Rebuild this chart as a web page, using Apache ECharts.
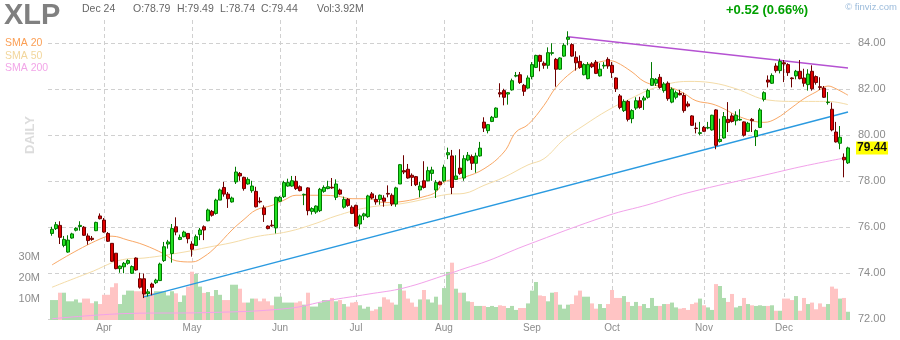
<!DOCTYPE html>
<html><head><meta charset="utf-8">
<script src="https://cdn.jsdelivr.net/npm/echarts@6/dist/echarts.min.js"></script>
<style>html,body{margin:0;padding:0;background:#fff}#c{width:900px;height:340px}</style>
</head><body><div id="c"></div><script>
// ---- trading days (2024) ----
const tradingDays = {
  '2024-03': [12,13,14,15,18,19,20,21,22,25,26,27,28],
  '2024-04': [1,2,3,4,5,8,9,10,11,12,15,16,17,18,19,22,23,24,25,26,29,30],
  '2024-05': [1,2,3,6,7,8,9,10,13,14,15,16,17,20,21,22,23,24,28,29,30,31],
  '2024-06': [3,4,5,6,7,10,11,12,13,14,17,18,20,21,24,25,26,27,28],
  '2024-07': [1,2,3,5,8,9,10,11,12,15,16,17,18,19,22,23,24,25,26,29,30,31],
  '2024-08': [1,2,5,6,7,8,9,12,13,14,15,16,19,20,21,22,23,26,27,28,29,30],
  '2024-09': [3,4,5,6,9,10,11,12,13,16,17,18,19,20,23,24,25,26,27,30],
  '2024-10': [1,2,3,4,7,8,9,10,11,14,15,16,17,18,21,22,23,24,25,28,29,30,31],
  '2024-11': [1,4,5,6,7,8,11,12,13,14,15,18,19,20,21,22,25,26,27,29],
  '2024-12': [2,3,4,5,6,9,10,11,12,13,16,17,18,19,20,23,24]
};
const monthNames = ['Jan','Feb','Mar','Apr','May','Jun','Jul','Aug','Sep','Oct','Nov','Dec'];
const priceTicks = [72, 84, 2];      // min, max, step
const volumeTicks = [0, 30, 10];     // millions

const opens = [
75.72,75.93,76.07,75.20,74.91,75.52,75.86,76.02,75.99,75.61,
75.51,75.84,76.48,76.30,75.72,75.29,74.86,74.19,74.27,74.42,
73.99,74.65,73.75,73.75,73.10,73.52,73.58,73.67,74.54,75.26,
74.85,76.01,75.46,75.58,75.72,75.26,75.20,75.67,76.01,76.27,
76.68,76.59,77.17,77.72,77.43,77.09,77.96,78.33,78.16,77.87,
77.58,77.55,77.12,76.83,76.04,76.08,75.96,77.12,77.32,77.78,
77.78,77.99,77.75,77.40,77.70,76.68,76.65,76.71,77.55,77.67,
77.73,77.29,77.61,76.86,77.20,76.86,76.94,76.13,76.48,76.45,
77.44,77.20,77.20,77.26,77.46,77.38,77.00,77.87,78.45,78.51,
78.25,78.19,77.61,78.01,78.01,78.33,77.61,77.96,78.01,79.14,
79.09,78.07,78.56,78.13,78.91,79.06,78.77,79.09,80.56,80.19,
80.59,80.77,81.84,81.93,81.78,81.96,82.56,82.62,82.16,82.04,
82.54,82.94,83.46,83.12,83.03,83.55,83.29,82.86,83.43,84.16,
83.93,83.38,83.20,82.62,82.45,83.09,83.17,82.57,83.00,83.29,
83.03,82.48,81.70,81.06,81.46,80.71,81.17,81.49,81.52,81.64,
82.16,82.25,82.51,81.93,82.25,81.43,81.64,81.81,81.72,81.35,
80.83,80.30,80.07,80.33,80.30,80.22,81.09,79.72,79.87,80.68,
80.83,80.62,80.65,80.57,80.16,80.68,79.93,80.33,81.55,82.39,
82.25,83.00,82.80,83.14,83.06,82.48,82.57,82.77,82.48,82.19,
82.77,82.54,82.10,82.04,81.41,81.12,80.13,79.64,79.03,78.79];
const closes = [
75.90,76.10,75.55,75.46,75.43,75.70,75.94,76.07,75.64,75.41,
75.46,76.20,76.36,75.78,75.38,74.51,74.19,74.30,74.42,74.54,
74.28,74.13,73.38,73.09,73.18,73.38,73.69,74.39,75.14,75.35,
75.93,75.78,75.55,75.78,75.49,75.03,75.58,75.87,75.87,76.74,
76.51,77.17,77.61,77.43,77.23,77.26,78.39,78.22,77.67,78.07,
77.78,76.88,77.09,76.54,75.93,76.05,77.29,77.29,77.93,77.93,
78.01,77.67,77.58,77.42,76.71,76.80,76.91,77.64,77.72,77.75,
77.70,77.87,77.43,77.20,76.94,76.59,76.04,76.48,76.57,77.35,
77.26,77.09,77.38,77.12,77.43,77.00,77.70,78.71,78.39,78.13,
78.16,77.84,77.78,77.72,78.45,78.48,77.93,77.84,78.60,79.23,
77.72,78.22,78.33,78.97,79.12,78.77,79.09,79.43,80.30,80.45,
80.77,81.17,81.78,81.64,81.84,82.36,82.59,82.28,81.90,82.48,
83.06,83.46,83.20,83.03,83.58,83.58,82.86,83.35,83.90,84.25,
83.43,83.14,82.94,83.06,83.06,82.97,82.68,82.86,83.03,83.00,
82.71,82.01,81.20,81.46,80.68,81.06,81.49,81.20,81.61,81.93,
82.45,82.42,82.07,82.22,81.58,81.99,81.84,81.75,81.06,81.26,
80.42,80.28,80.10,80.16,80.33,80.86,79.55,79.81,80.80,80.54,
80.59,80.86,80.68,79.99,80.51,80.62,80.19,81.09,81.84,82.30,
82.59,82.80,83.20,83.09,82.71,82.45,82.77,82.45,82.25,82.65,
82.01,82.28,82.07,81.64,81.43,80.22,79.70,79.90,78.92,79.44];
const lows = [
75.62,75.87,75.26,75.12,74.88,75.49,75.81,75.84,75.61,75.23,
75.40,75.82,76.33,75.75,75.35,74.48,74.16,74.01,73.99,74.36,
73.96,74.10,73.32,72.91,72.98,73.03,73.52,73.65,74.48,75.06,
74.45,75.64,75.43,75.55,75.29,74.71,75.20,75.43,75.43,76.25,
76.45,76.54,77.17,77.32,76.83,77.06,77.87,78.01,77.58,77.84,
77.49,76.85,77.03,76.22,75.90,76.01,75.72,77.09,77.26,77.75,
77.75,77.61,77.55,76.95,76.51,76.54,76.57,76.65,77.49,77.64,
77.66,77.17,77.38,76.80,76.88,76.56,76.01,75.90,76.30,76.40,
77.20,76.97,76.97,76.88,77.29,76.91,76.88,77.87,78.30,78.10,
77.78,77.78,77.29,77.67,77.99,78.01,77.26,77.81,77.96,78.95,
77.43,78.04,78.27,78.01,78.86,78.48,78.36,79.06,80.13,80.07,
80.56,80.74,81.64,81.29,81.32,81.93,82.51,82.22,81.70,82.01,
82.42,82.91,82.77,82.88,82.88,83.46,82.10,82.83,83.40,83.90,
83.40,82.80,82.88,82.59,82.42,82.91,82.65,82.54,82.88,82.88,
82.48,81.87,81.12,81.00,80.59,80.51,81.09,81.14,81.09,81.58,
82.13,82.13,82.01,81.84,81.49,81.38,81.55,81.72,80.97,81.20,
80.39,80.07,79.99,80.13,80.25,80.19,79.38,79.67,79.84,80.13,
80.54,80.42,80.62,79.93,80.13,80.13,79.52,80.30,81.46,82.07,
82.22,82.71,82.68,82.30,82.57,82.07,82.42,82.42,82.10,81.93,
81.93,82.19,81.96,81.61,81.32,80.16,79.67,79.38,78.16,78.74];
const highs = [
76.01,76.22,76.25,75.61,75.64,75.75,75.99,76.25,76.04,75.72,
75.61,76.23,76.59,76.39,75.78,75.29,74.86,74.33,74.48,74.59,
74.33,74.68,74.01,73.98,73.30,73.58,73.75,74.45,75.35,75.44,
76.13,76.42,75.67,75.84,75.72,75.38,75.67,75.96,76.07,76.80,
76.74,77.23,77.67,77.96,77.52,77.32,78.62,78.39,78.19,78.16,
78.01,77.75,77.29,76.94,76.07,76.30,77.32,77.35,78.01,78.10,
78.22,78.22,77.81,77.45,77.73,76.86,76.94,77.70,77.81,78.01,
78.13,78.07,77.67,77.32,77.26,76.94,76.97,76.54,76.62,77.40,
77.52,77.38,77.41,77.38,77.81,77.46,77.75,78.74,79.12,78.74,
78.33,78.22,77.96,78.86,78.62,78.62,78.04,78.01,78.71,79.45,
79.35,79.12,79.38,79.12,79.26,79.15,79.23,79.70,80.77,80.48,
80.83,81.20,82.25,82.01,81.87,82.45,82.74,82.74,82.22,82.59,
83.17,83.49,83.49,83.20,83.81,83.99,83.35,83.38,83.99,84.51,
83.99,83.64,83.46,83.12,83.17,83.17,83.26,83.12,83.17,83.38,
83.17,82.51,81.78,81.55,81.52,81.12,81.64,81.66,81.70,82.01,
83.17,82.48,82.65,82.30,82.33,82.07,81.93,81.96,81.84,81.46,
80.86,80.54,80.57,80.39,80.57,80.88,81.12,80.71,81.00,81.43,
80.94,81.03,81.12,80.59,80.57,80.74,80.25,81.17,81.90,82.59,
82.68,83.12,83.32,83.26,83.12,82.51,82.83,83.26,82.88,82.86,
83.03,82.59,82.51,82.13,81.87,81.41,80.57,80.39,79.20,79.49];
const volumesM = [
9.5,9.5,13,13,8.9,8.9,9.8,8.3,10.2,10.2,
8,8.9,7.6,12,12,15.6,17.5,7.6,12,14,
14,13.7,13.7,14,11.7,12.9,13.7,13.7,13.7,11.7,
13.7,12.7,8.6,11.7,15.9,23,21.9,15.9,12.9,13.3,
11.4,14.3,12,9.5,9.5,16.8,16.8,14.9,8.3,8.3,
10.2,10.2,8.9,10.2,8.9,7,11.1,11.1,8.3,8.3,
8.3,8.3,8.9,7.3,13,6.4,6.4,8.3,9.5,9.5,
10.5,8.9,9.5,7.6,6.4,8.3,8.6,7,5.4,6.3,
4.4,5.1,6.3,10.8,9.8,8.3,7.3,17.1,14,10.2,
8.3,6.3,9.8,14.3,9.8,8.3,11.1,7.3,15.2,22.9,
27.3,14.9,13,13,8.9,8.6,6.7,6.7,6.7,6.2,
6.7,6.2,7,6.7,5.7,6.7,4.8,5.7,5.7,7.9,
14,18.1,11.7,11.4,8.9,13,13.3,7.3,5.4,7.3,
7.6,11.7,14,11.1,11.1,7.9,5.4,7.6,5.7,7.6,
14.3,10.5,10.5,11.4,8.6,6.7,8.6,6.7,7.6,5.7,
10.5,6.7,6.7,7.6,7.6,8.3,6.0,5.4,5.7,4.8,
7.6,8.3,10.2,7,6,4.8,17.1,16.2,10.5,8.6,
12.4,6,6.7,10.5,7.6,7,6.7,7,6.7,6.7,
7,4.4,4.4,10.2,10.2,9.5,11.4,4.4,10.5,7.6,
8.3,5.1,7.9,6.3,7.6,15.9,14.9,10.2,10.5,3.92];

// moving averages: [day index, value]
const sma20 = [[0,74.35],[13,75.55],[15,75.6],[19,75.43],[23,75.22],[28,74.83],[31,74.53],[35,74.48],[38,74.71],[41,75.14],[45,75.87],[48,76.33],[51,76.74],[55,76.94],[58,77.17],[61,77.38],[66,77.38],[71,77.35],[75,77.23],[79,77.23],[83,77.06],[88,77.12],[93,77.32],[96,77.52],[98,77.95],[103,78.16],[108,78.53],[113,79.26],[116,80.13],[119,80.45],[123,81.29],[126,82.07],[130,82.74],[133,83.03],[136,83.14],[139,83.23],[141,83.17],[145,82.74],[148,82.33],[151,82.16],[155,82.04],[158,81.81],[161,81.49],[165,81.35],[168,81.14],[171,80.86],[175,80.62],[178,80.55],[181,80.71],[185,81.20],[188,81.58],[191,81.87],[194,82.13],[196,82.01],[199,81.73]];
const sma50 = [[0,73.38],[9,73.99],[19,74.62],[23,74.65],[33,74.91],[39,75.12],[45,75.32],[51,75.58],[59,75.80],[66,76.16],[71,76.48],[79,76.85],[88,77.03],[99,77.42],[103,77.46],[108,77.81],[113,78.16],[119,78.70],[123,78.97],[128,79.81],[133,80.42],[139,81.08],[145,81.61],[151,82.07],[159,82.33],[165,82.27],[171,82.01],[179,81.52],[186,81.46],[194,81.46],[199,81.32]];
const sma200 = [[0,72.01],[19,72.24],[39,72.28],[59,72.46],[69,72.80],[79,73.08],[88,73.35],[99,73.95],[103,74.19],[109,74.53],[118,75.17],[139,76.50],[149,76.97],[159,77.49],[179,78.29],[188,78.65],[199,79.03]];
const supportLine = [[23,72.96],[199,81.0]];
const resistanceLine = [[129,84.27],[199,82.91]];

const header = {ticker:'XLP', date:'Dec 24', o:'78.79', h:'79.49', l:'78.74', c:'79.44', vol:'3.92M', change:'+0.52 (0.66%)'};

// ---- build ----
const dates = [];
for (const m in tradingDays) for (const d of tradingDays[m]) dates.push(m + '-' + String(d).padStart(2,'0'));
const monthStart = new Set();
dates.forEach((d,i)=>{ if (i>0 && d.slice(0,7)!==dates[i-1].slice(0,7)) monthStart.add(i); });
const candles = dates.map((d,i)=>[opens[i], closes[i], lows[i], highs[i]]);
const vols = volumesM.map((v,i)=>({value:v, itemStyle:{color: closes[i]>=opens[i] ? '#aedcae' : '#ffc4c4'}}));

const FONT = '"Liberation Sans", Arial, sans-serif';
const chart = echarts.init(document.getElementById('c'), null, {renderer:'canvas'});
const dash = [4,3];
const gridBase = {containLabel:false, outerBoundsMode:'none'};
const option = {
  animation:false,
  backgroundColor:'#fff',
  textStyle:{fontFamily:FONT},
  grid:[
    Object.assign({left:52, width:796, top:43, height:276}, gridBase),
    Object.assign({left:52, width:796, top:257, height:63}, gridBase),
    Object.assign({left:48, width:804, top:43, height:276}, gridBase),
    Object.assign({left:52, width:796, top:20, height:299}, gridBase)
  ],
  xAxis:[
    {type:'category', gridIndex:0, data:dates, boundaryGap:false, show:false},
    {type:'category', gridIndex:1, data:dates, boundaryGap:false, show:false},
    {type:'value', gridIndex:2, min:0, max:1, show:false},
    {type:'category', gridIndex:3, data:dates, boundaryGap:false,
      axisLine:{show:false}, axisTick:{show:false},
      axisLabel:{interval:(i)=>monthStart.has(i), formatter:(v)=>monthNames[parseInt(v.slice(5,7),10)-1],
        color:'#8c8c8c', fontSize:10, margin:4, fontFamily:FONT},
      splitLine:{show:true, interval:(i)=>monthStart.has(i), lineStyle:{color:'#d0d0d0', type:dash, width:1}}}
  ],
  yAxis:[
    {type:'value', gridIndex:0, min:priceTicks[0], max:priceTicks[1], show:false},
    {type:'value', gridIndex:1, min:volumeTicks[0], max:volumeTicks[1], interval:volumeTicks[2], position:'left',
      axisLine:{show:false}, axisTick:{show:false}, splitLine:{show:false},
      axisLabel:{showMinLabel:false, formatter:(v)=>v+'M', color:'#8c8c8c', fontSize:11, margin:12, fontFamily:FONT}},
    {type:'value', gridIndex:2, min:priceTicks[0], max:priceTicks[1], interval:priceTicks[2], position:'right',
      axisLine:{show:false}, axisTick:{show:false},
      splitLine:{show:true, lineStyle:{color:'#d0d0d0', type:dash, width:1}},
      axisLabel:{formatter:(v)=>v.toFixed(2), color:'#8c8c8c', fontSize:11, margin:6, fontFamily:FONT}},
    {type:'value', gridIndex:3, show:false}
  ],
  series:[
    {type:'bar', xAxisIndex:1, yAxisIndex:1, data:vols, barWidth:4, barCategoryGap:'0%', clip:false, z:1, silent:true},
    {type:'line', xAxisIndex:0, yAxisIndex:0, data:sma200, smooth:0.4, showSymbol:false, clip:false, z:2,
      lineStyle:{color:'#f2a2ea', width:1}},
    {type:'line', xAxisIndex:0, yAxisIndex:0, data:sma50, smooth:0.4, showSymbol:false, clip:false, z:2,
      lineStyle:{color:'#f4dca8', width:1}},
    {type:'line', xAxisIndex:0, yAxisIndex:0, data:sma20, smooth:0.4, showSymbol:false, clip:false, z:2,
      lineStyle:{color:'#f9a866', width:1}},
    {type:'line', xAxisIndex:0, yAxisIndex:0, data:supportLine, showSymbol:false, clip:false, z:3,
      lineStyle:{color:'#2a9ae0', width:1.3}},
    {type:'line', xAxisIndex:0, yAxisIndex:0, data:resistanceLine, showSymbol:false, clip:false, z:3,
      lineStyle:{color:'#b552d2', width:1.5}},
    {type:'candlestick', xAxisIndex:0, yAxisIndex:0, data:candles, barWidth:3, clip:false, z:4,
      itemStyle:{color:'#22e022', color0:'#e00000', borderColor:'#007a00', borderColor0:'#6e0000', borderWidth:1}}
  ],
  graphic:[
    {id:'tk', type:'text', x:4, y:16, style:{text:header.ticker, font:'bold 29px '+FONT, fill:'#808080', textVerticalAlign:'middle', verticalAlign:'middle'}},
    {id:'dt', type:'text', x:82, y:9, style:{text:header.date, font:'10.5px '+FONT, fill:'#666', textVerticalAlign:'middle', verticalAlign:'middle'}},
    {id:'o', type:'text', x:133, y:9, style:{text:'O:'+header.o, font:'10.5px '+FONT, fill:'#666', textVerticalAlign:'middle', verticalAlign:'middle'}},
    {id:'h', type:'text', x:177, y:9, style:{text:'H:'+header.h, font:'10.5px '+FONT, fill:'#666', textVerticalAlign:'middle', verticalAlign:'middle'}},
    {id:'l', type:'text', x:220, y:9, style:{text:'L:'+header.l, font:'10.5px '+FONT, fill:'#666', textVerticalAlign:'middle', verticalAlign:'middle'}},
    {id:'cl', type:'text', x:261, y:9, style:{text:'C:'+header.c, font:'10.5px '+FONT, fill:'#666', textVerticalAlign:'middle', verticalAlign:'middle'}},
    {id:'vo', type:'text', x:317, y:9, style:{text:'Vol:'+header.vol, font:'10.5px '+FONT, fill:'#666', textVerticalAlign:'middle', verticalAlign:'middle'}},
    {id:'ch', type:'text', x:726, y:10, style:{text:header.change, font:'bold 13px '+FONT, fill:'#00a000', textVerticalAlign:'middle', verticalAlign:'middle'}},
    {id:'fv', type:'text', x:897, y:7, style:{text:'\u00a9 finviz.com', font:'9.5px '+FONT, fill:'#9bbbdb', textAlign:'right', align:'right', textVerticalAlign:'middle', verticalAlign:'middle'}},
    {id:'s20', type:'text', x:5, y:43, style:{text:'SMA 20', font:'10.5px '+FONT, fill:'#fb9f55', textVerticalAlign:'middle', verticalAlign:'middle'}},
    {id:'s50', type:'text', x:5, y:56, style:{text:'SMA 50', font:'10.5px '+FONT, fill:'#f2d69c', textVerticalAlign:'middle', verticalAlign:'middle'}},
    {id:'s200', type:'text', x:5, y:68, style:{text:'SMA 200', font:'10.5px '+FONT, fill:'#f2a6e8', textVerticalAlign:'middle', verticalAlign:'middle'}},
    {id:'daily', type:'text', x:30, y:135, rotation:Math.PI/2, style:{text:'DAILY', font:'bold 13px '+FONT, fill:'#dcdcdc', textAlign:'center', align:'center', textVerticalAlign:'middle', verticalAlign:'middle'}}
  ]
};
chart.setOption(option);
const lastY = chart.convertToPixel({yAxisIndex:0}, closes[closes.length-1]);
chart.setOption({graphic:[
  {id:'last', type:'text', x:856, y:lastY, z:100, style:{text:closes[closes.length-1].toFixed(2), font:'bold 12px '+FONT, fill:'#111',
    backgroundColor:'#ffff00', padding:[1,1,0,1], textVerticalAlign:'middle', verticalAlign:'middle'}}
]});
</script></body></html>
